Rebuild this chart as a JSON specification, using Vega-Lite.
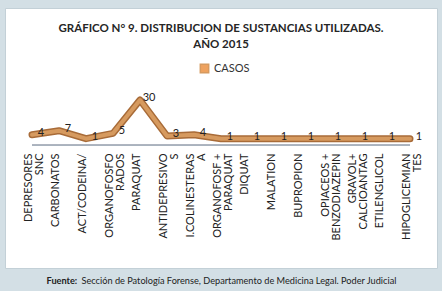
{
  "$schema": "https://vega.github.io/schema/vega-lite/v6.json",
  "width": 432,
  "height": 260,
  "autosize": {"type": "none"},
  "padding": {"left": 5, "top": 8, "right": 5, "bottom": 23},
  "background": "#d3dfe5",
  "view": {"fill": "white", "stroke": "#c3d0d7", "strokeWidth": 1},
  "title": {
    "text": ["GRÁFICO N° 9. DISTRIBUCION DE SUSTANCIAS UTILIZADAS.", "AÑO 2015"],
    "font": "Lato",
    "fontSize": 11.5,
    "fontWeight": "bold",
    "color": "#262626",
    "anchor": "middle",
    "baseline": "top",
    "offset": 0,
    "dy": 42,
    "lineHeight": 16
  },
  "data": {
    "values": [
      {"sustancia": "DEPRESORES|SNC", "casos": 4, "serie": "CASOS"},
      {"sustancia": "CARBONATOS", "casos": 7, "serie": "CASOS"},
      {"sustancia": "ACT/CODEINA/", "casos": 1, "serie": "CASOS"},
      {"sustancia": "ORGANOFOSFO|RADOS", "casos": 5, "serie": "CASOS"},
      {"sustancia": "PARAQUAT", "casos": 30, "serie": "CASOS"},
      {"sustancia": "ANTIDEPRESIVO|S", "casos": 3, "serie": "CASOS"},
      {"sustancia": "I.COLINESTERAS|A", "casos": 4, "serie": "CASOS"},
      {"sustancia": "ORGANOFOSF +|PARAQUAT", "casos": 1, "serie": "CASOS"},
      {"sustancia": "DIQUAT", "casos": 1, "serie": "CASOS"},
      {"sustancia": "MALATION", "casos": 1, "serie": "CASOS"},
      {"sustancia": "BUPROPION", "casos": 1, "serie": "CASOS"},
      {"sustancia": "OPIACEOS +|BENZODIAZEPIN", "casos": 1, "serie": "CASOS"},
      {"sustancia": "GRAVOL+|CALCIOANTAG", "casos": 1, "serie": "CASOS"},
      {"sustancia": "ETILENGLICOL", "casos": 1, "serie": "CASOS"},
      {"sustancia": "HIPOGLICEMIAN|TES", "casos": 1, "serie": "CASOS"}
    ]
  },
  "encoding": {
    "x": {
      "field": "sustancia",
      "type": "nominal",
      "sort": null,
      "scale": {"type": "point", "padding": 2.8},
      "axis": {
        "orient": "bottom",
        "offset": -125,
        "domain": false,
        "ticks": false,
        "grid": false,
        "labelAngle": -90,
        "labelPadding": 10,
        "labelOffset": -4,
        "labelFont": "Lato",
        "labelFontSize": 11,
        "labelColor": "#222222",
        "labelLimit": 100,
        "labelLineHeight": 11,
        "labelExpr": "split(datum.label, '|')",
        "title": "Fuente:",
        "titleFont": "Lato",
        "titleFontSize": 9.2,
        "titleFontWeight": "bold",
        "titleColor": "#222222",
        "titleX": 41,
        "titleY": 137,
        "titleAlign": "left",
        "titleBaseline": "middle"
      }
    },
    "y": {
      "field": "casos",
      "type": "quantitative",
      "scale": {"domain": [-96, 99], "nice": false, "zero": false},
      "axis": {
        "domain": false,
        "ticks": false,
        "labels": false,
        "grid": false,
        "title": "Sección de Patología Forense, Departamento de Medicina Legal. Poder Judicial",
        "titleAngle": 0,
        "titleX": 76,
        "titleY": 272,
        "titleAlign": "left",
        "titleBaseline": "middle",
        "titleFont": "Lato",
        "titleFontSize": 9.2,
        "titleFontWeight": "normal",
        "titleColor": "#222222"
      }
    }
  },
  "layer": [
    {
      "mark": {"type": "line", "color": "#a86b38", "strokeWidth": 7, "strokeJoin": "round", "strokeCap": "round"}
    },
    {
      "mark": {"type": "line", "strokeWidth": 4, "strokeJoin": "round", "strokeCap": "round"},
      "encoding": {
        "color": {
          "field": "serie",
          "type": "nominal",
          "scale": {"range": ["#d69a5f"]},
          "legend": {
            "orient": "none",
            "legendX": 194,
            "legendY": 55,
            "title": null,
            "symbolType": "square",
            "symbolSize": 70,
            "symbolFillColor": "#eea25f",
            "symbolStrokeColor": "#eea25f",
            "labelFont": "Lato",
            "labelFontSize": 11,
            "labelColor": "#333333"
          }
        }
      }
    },
    {
      "mark": {"type": "text", "dx": 9, "dy": -2, "baseline": "middle", "font": "Lato", "fontSize": 11, "color": "#222222"},
      "encoding": {"text": {"field": "casos", "type": "quantitative"}}
    },
    {
      "mark": {"type": "rule", "color": "#a9b4bf", "strokeWidth": 1},
      "encoding": {
        "x": {"datum": "DEPRESORES|SNC"},
        "x2": {"datum": "HIPOGLICEMIAN|TES"},
        "y": {"datum": -4}
      }
    }
  ]
}
